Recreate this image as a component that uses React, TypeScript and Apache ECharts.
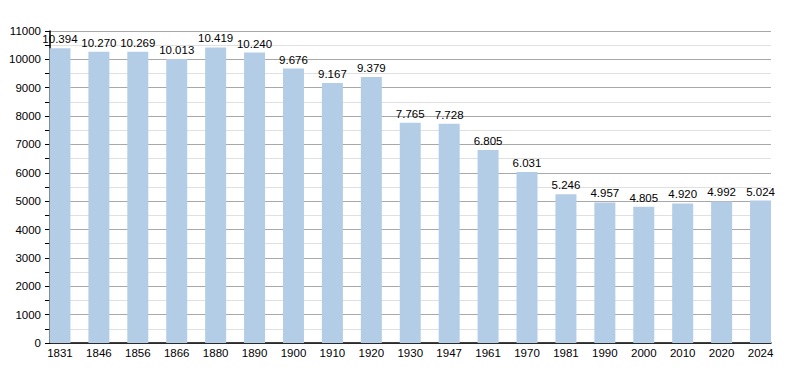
import React, { useEffect, useRef } from "react";
import * as echarts from "echarts";

const years = ["1831","1846","1856","1866","1880","1890","1900","1910","1920","1930","1947","1961","1970","1981","1990","2000","2010","2020","2024"];
const population = [10394,10270,10269,10013,10419,10240,9676,9167,9379,7765,7728,6805,6031,5246,4957,4805,4920,4992,5024];
const yMin = 0;
const yMax = 11000;
const yInterval = 1000;

const fmt = (v: number) => {
  const s = String(Math.round(v));
  return s.replace(/\B(?=(\d{3})+(?!\d))/g, ".");
};

export default function App() {
  const ref = useRef<HTMLDivElement>(null);
  useEffect(() => {
    if (!ref.current) return;
    const chart = echarts.init(ref.current, null, { renderer: "svg" });
    const font = "Liberation Sans, Arial, sans-serif";
    chart.setOption({
      animation: false,
      backgroundColor: "#ffffff",
      grid: [
        { left: 50, right: 29, top: 31, bottom: 30, containLabel: false },
        { left: 40.5, right: 20, top: 31, bottom: 30, containLabel: false },
      ],
      xAxis: [
        {
          type: "category",
          gridIndex: 0,
          data: years,
          axisLine: { show: true, lineStyle: { color: "#000", width: 1.5 } },
          axisTick: { show: false },
          axisLabel: { show: false },
          splitLine: { show: false },
        },
        {
          type: "category",
          gridIndex: 1,
          data: years,
          axisLine: { show: false },
          axisTick: { show: false },
          axisLabel: { color: "#000", fontSize: 11.5, fontFamily: font, margin: 4 },
          splitLine: { show: false },
        },
      ],
      yAxis: [
        {
          type: "value",
          gridIndex: 0,
          min: yMin,
          max: yMax,
          interval: yInterval,
          axisLine: { show: true, lineStyle: { color: "#000", width: 1.5 } },
          axisTick: { show: true, length: 5, lineStyle: { color: "#000" } },
          minorTick: { show: true, splitNumber: 2, length: 5, lineStyle: { color: "#000" } },
          axisLabel: { color: "#000", fontSize: 11.5, fontFamily: font, margin: 9, formatter: (v: number) => String(v) },
          splitLine: { show: true, lineStyle: { color: "#a8a8a8", width: 1 } },
          minorSplitLine: { show: true, lineStyle: { color: "#e0e0e0", width: 1 } },
        },
        {
          type: "value",
          gridIndex: 1,
          min: yMin,
          max: yMax,
          interval: yInterval,
          show: false,
          splitLine: { show: false },
        },
      ],
      series: [
        {
          type: "bar",
          xAxisIndex: 1,
          yAxisIndex: 1,
          data: population,
          barWidth: 21,
          itemStyle: { color: "#b4cde6" },
          label: {
            show: true,
            position: "top",
            distance: 3,
            color: "#000",
            fontSize: 11.5,
            fontFamily: font,
            formatter: (p: any) => fmt(p.value),
          },
        },
      ],
    });
    return () => chart.dispose();
  }, []);
  return <div ref={ref} style={{ width: 800, height: 373, margin: -8 }} />;
}
